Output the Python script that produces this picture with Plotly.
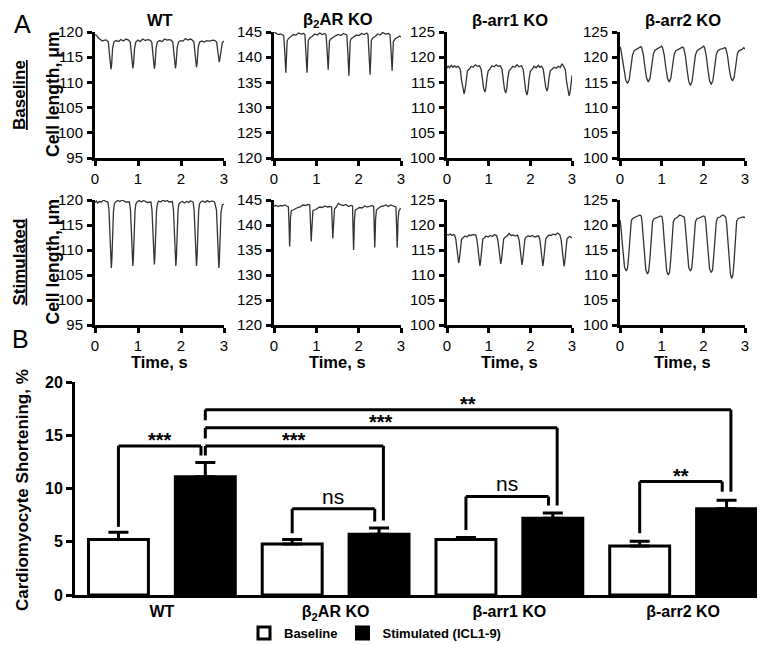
import plotly.graph_objects as go

# ---------------- Panel A data (cell length traces) ----------------
t_wt_base = [0, 0.04, 0.08, 0.12, 0.17, 0.22, 0.27, 0.31, 0.335, 0.36, 0.37, 0.385, 0.41, 0.44, 0.49,
             0.55, 0.6, 0.66, 0.72, 0.78, 0.82, 0.845, 0.87, 0.88, 0.895, 0.92, 0.95, 1.0, 1.05, 1.11, 1.17, 1.22,
             1.28, 1.32, 1.345, 1.37, 1.38, 1.395, 1.42, 1.45, 1.5, 1.56, 1.62, 1.68, 1.72,
             1.77, 1.81, 1.835, 1.86, 1.87, 1.885, 1.91, 1.94, 1.99, 2.05, 2.1, 2.16, 2.22,
             2.26, 2.30, 2.325, 2.35, 2.36, 2.375, 2.40, 2.43, 2.48, 2.54, 2.6, 2.66, 2.74,
             2.79, 2.83, 2.855, 2.88, 2.89, 2.905, 2.93, 2.96, 3.0]
l_wt_base = [119.5, 119.3, 118.8, 118.5, 118.2, 118.4, 118.4, 118.0, 115.8, 113.2, 112.6, 113.4, 116.8, 118.0, 118.3,
             118.1, 118.5, 118.2, 118.6, 118.4, 118.0, 115.8, 113.4, 112.8, 113.6, 116.8, 118.0, 118.4, 118.1, 118.6, 118.3, 118.5,
             118.4, 118.0, 115.8, 113.3, 112.7, 113.5, 116.8, 118.0, 118.3, 118.1, 118.6, 118.4, 118.5,
             118.4, 118.0, 115.8, 113.4, 112.8, 113.6, 116.8, 118.0, 118.3, 118.2, 118.7, 118.4, 118.6,
             118.4, 118.0, 115.9, 113.6, 113.0, 113.8, 116.9, 118.0, 118.2, 118.0, 118.3, 118.2, 118.4,
             118.3, 118.0, 116.2, 114.5, 114.0, 114.7, 116.8, 117.9, 118.2]

t_b2_base = [0, 0.05, 0.1, 0.15, 0.2,
             0.23, 0.255, 0.272, 0.28, 0.29, 0.31, 0.34, 0.4, 0.46, 0.52, 0.58, 0.64, 0.7,
             0.73, 0.755, 0.772, 0.78, 0.79, 0.81, 0.84, 0.9, 0.96, 1.02, 1.08, 1.14, 1.2,
             1.23, 1.255, 1.272, 1.28, 1.29, 1.31, 1.34, 1.4, 1.46, 1.52, 1.58, 1.64, 1.7,
             1.72, 1.745, 1.762, 1.77, 1.78, 1.80, 1.83, 1.89, 1.95, 2.01, 2.07, 2.13, 2.19,
             2.22, 2.245, 2.262, 2.27, 2.28, 2.30, 2.33, 2.39, 2.45, 2.51, 2.57, 2.63, 2.7,
             2.74, 2.765, 2.782, 2.79, 2.80, 2.82, 2.86, 2.92, 2.97, 3.0]
l_b2_base = [145.0, 144.8, 144.5, 144.6, 144.4,
             144.3, 141.0, 137.9, 136.9, 138.9, 143.2, 143.7, 144.2, 144.5, 144.4, 144.8, 144.6, 144.7,
             144.5, 141.0, 137.9, 136.9, 138.9, 143.3, 143.8, 144.1, 144.6, 144.4, 144.8, 144.5, 144.7,
             144.4, 141.3, 138.5, 137.5, 139.4, 143.2, 143.6, 144.0, 144.3, 144.5, 144.3, 144.7, 144.5,
             144.4, 140.8, 137.3, 136.3, 138.5, 143.2, 143.7, 144.0, 144.4, 144.3, 144.7, 144.5, 144.8,
             144.5, 140.9, 137.5, 136.5, 138.7, 143.3, 143.8, 144.1, 144.6, 144.4, 144.9, 144.6, 144.7,
             144.5, 141.2, 138.3, 137.3, 139.2, 143.1, 143.6, 143.9, 144.2, 144.0]

t_a1_base = [0, 0.03, 0.06, 0.1, 0.14, 0.18, 0.22, 0.25,
             0.28, 0.32, 0.35, 0.38, 0.41, 0.435, 0.46, 0.49, 0.53, 0.58, 0.63, 0.68, 0.73, 0.78,
             0.82, 0.85, 0.88, 0.91, 0.935, 0.96, 0.99, 1.03, 1.08, 1.13, 1.18, 1.23, 1.28,
             1.32, 1.35, 1.38, 1.41, 1.435, 1.46, 1.49, 1.53, 1.58, 1.63, 1.68, 1.73, 1.79,
             1.83, 1.86, 1.89, 1.92, 1.945, 1.97, 2.0, 2.04, 2.09, 2.14, 2.19, 2.23, 2.27,
             2.31, 2.34, 2.37, 2.40, 2.425, 2.45, 2.48, 2.52, 2.57, 2.62, 2.67, 2.72, 2.76, 2.8,
             2.84, 2.87, 2.90, 2.93, 2.955, 2.98, 3.0]
l_a1_base = [117.8, 118.3, 117.9, 118.4, 118.0, 118.3, 118.0, 118.2,
             118.1, 117.5, 115.4, 113.5, 112.7, 113.6, 115.8, 117.3, 117.6, 118.2, 118.0, 118.5, 118.2, 118.3,
             117.6, 115.6, 113.8, 113.1, 114.0, 116.0, 117.3, 117.7, 118.3, 118.1, 118.5, 118.2, 118.3,
             117.6, 115.5, 113.6, 112.9, 113.8, 115.9, 117.3, 117.7, 118.2, 118.0, 118.5, 118.1, 118.3,
             117.5, 115.3, 113.3, 112.5, 113.5, 115.7, 117.2, 117.6, 118.2, 117.9, 118.4, 118.0, 118.2,
             117.6, 115.7, 114.0, 113.3, 114.1, 116.0, 117.3, 117.6, 118.0, 117.8, 118.2, 118.0, 118.7, 118.2,
             117.5, 115.2, 113.2, 112.3, 113.1, 115.0, 116.4]

t_a2_base = [0, 0.02, 0.06, 0.1, 0.14, 0.18, 0.22, 0.26, 0.30, 0.34, 0.40, 0.46, 0.50,
             0.52, 0.56, 0.60, 0.64, 0.68, 0.72, 0.76, 0.80, 0.84, 0.90, 0.96, 1.0,
             1.02, 1.06, 1.10, 1.14, 1.18, 1.22, 1.26, 1.30, 1.34, 1.40, 1.46, 1.50,
             1.53, 1.57, 1.61, 1.65, 1.69, 1.73, 1.77, 1.81, 1.85, 1.91, 1.97, 2.01,
             2.03, 2.07, 2.11, 2.15, 2.19, 2.23, 2.27, 2.31, 2.35, 2.41, 2.47, 2.52,
             2.54, 2.58, 2.62, 2.66, 2.70, 2.74, 2.78, 2.82, 2.86, 2.92, 2.97, 3.0]
l_a2_base = [122.1, 121.6, 119.5, 117.2, 115.4, 114.8, 115.5, 117.9, 120.4, 121.3, 121.6, 122.0, 122.1,
             121.9, 120.5, 117.9, 115.8, 115.1, 115.8, 118.2, 120.6, 121.4, 121.7, 122.0, 122.2,
             121.9, 120.5, 117.9, 115.8, 115.1, 115.8, 118.2, 120.6, 121.3, 121.6, 121.8, 122.0,
             121.8, 120.2, 117.5, 115.2, 114.4, 115.2, 117.8, 120.4, 121.3, 121.7, 122.0, 122.2,
             121.9, 120.3, 117.6, 115.3, 114.6, 115.4, 117.9, 120.5, 121.3, 121.6, 121.7, 121.9,
             121.7, 120.3, 117.8, 115.9, 115.3, 116.0, 118.4, 120.8, 121.3, 121.5, 121.9, 121.6]

t_wt_stim = [0, 0.03, 0.06, 0.1, 0.15, 0.2, 0.25, 0.3,
             0.325, 0.35, 0.37, 0.38, 0.392, 0.41, 0.43, 0.45, 0.48, 0.53, 0.58, 0.63, 0.68, 0.72, 0.8,
             0.825, 0.85, 0.87, 0.88, 0.892, 0.91, 0.93, 0.95, 0.98, 1.03, 1.08, 1.13, 1.18, 1.22, 1.3,
             1.325, 1.35, 1.37, 1.38, 1.392, 1.41, 1.43, 1.45, 1.48, 1.53, 1.58, 1.63, 1.68, 1.72, 1.8,
             1.825, 1.85, 1.87, 1.88, 1.892, 1.91, 1.93, 1.95, 1.98, 2.03, 2.08, 2.13, 2.18, 2.22, 2.28,
             2.305, 2.33, 2.35, 2.36, 2.372, 2.39, 2.41, 2.43, 2.46, 2.51, 2.56, 2.61, 2.66, 2.72, 2.78,
             2.825, 2.85, 2.87, 2.88, 2.892, 2.91, 2.93, 2.96, 3.0]
l_wt_stim = [119.5, 119.8, 119.4, 119.7, 119.6, 120.0, 119.7, 119.6,
             118.0, 113.0, 108.0, 106.4, 108.0, 113.5, 117.8, 119.2, 119.6, 119.9, 119.7, 120.0, 119.8, 119.6, 119.6,
             118.0, 113.0, 108.3, 106.8, 108.3, 113.5, 117.8, 119.2, 119.6, 119.9, 119.6, 119.9, 119.7, 119.5, 119.6,
             118.0, 113.1, 108.6, 107.1, 108.6, 113.6, 117.8, 119.2, 119.8, 119.6, 120.0, 119.7, 119.9, 119.6, 119.7,
             118.0, 113.0, 108.3, 106.8, 108.3, 113.5, 117.8, 119.2, 119.5, 119.7, 119.4, 119.7, 119.5, 119.8, 119.6,
             118.0, 113.0, 108.3, 106.8, 108.3, 113.5, 117.8, 119.2, 119.6, 119.8, 119.5, 119.9, 119.6, 119.8, 119.6,
             118.0, 113.0, 108.0, 106.4, 108.0, 113.5, 117.5, 119.0, 119.2]

t_b2_stim = [0, 0.05, 0.1, 0.15, 0.2, 0.25, 0.3,
             0.34, 0.355, 0.365, 0.37, 0.378, 0.39, 0.41, 0.45, 0.5, 0.56, 0.62, 0.68, 0.74, 0.8, 0.845,
             0.855, 0.872, 0.88, 0.888, 0.9, 0.92, 0.96, 1.02, 1.08, 1.14, 1.2, 1.26, 1.32, 1.36,
             1.368, 1.382, 1.39, 1.398, 1.41, 1.43, 1.47, 1.52, 1.58, 1.64, 1.7, 1.76, 1.82, 1.855,
             1.865, 1.875, 1.88, 1.888, 1.9, 1.92, 1.96, 2.02, 2.08, 2.14, 2.2, 2.26, 2.32, 2.355,
             2.365, 2.375, 2.38, 2.388, 2.4, 2.42, 2.46, 2.52, 2.58, 2.64, 2.7, 2.76, 2.82, 2.88,
             2.895, 2.905, 2.91, 2.918, 2.93, 2.95, 2.98, 3.0]
l_b2_stim = [143.8, 143.9, 143.7, 143.9, 143.8, 144.0, 143.8,
             143.6, 140.0, 137.0, 135.7, 137.5, 141.5, 142.9, 143.0, 143.3, 143.5, 143.6, 144.0, 143.9, 144.1, 144.0,
             141.0, 138.0, 136.7, 138.3, 141.6, 142.9, 143.0, 143.3, 143.6, 143.5, 143.8, 143.6, 143.7, 143.6,
             141.0, 138.5, 137.3, 138.8, 142.0, 143.2, 143.6, 144.3, 144.0, 143.9, 144.1, 143.7, 143.9, 143.8,
             140.0, 136.8, 135.0, 137.0, 141.0, 143.0, 143.2, 143.5, 143.4, 143.8, 143.6, 143.8, 143.9, 143.7,
             140.0, 137.2, 135.5, 137.4, 141.2, 143.0, 143.3, 143.7, 143.8, 144.0, 143.7, 144.0, 143.8, 143.6,
             140.0, 137.2, 135.5, 137.4, 141.0, 142.8, 143.2, 143.3]

t_a1_stim = [0, 0.04, 0.08, 0.12, 0.16,
             0.18, 0.21, 0.24, 0.265, 0.28, 0.295, 0.32, 0.35, 0.38, 0.43, 0.48, 0.53, 0.58, 0.63, 0.67,
             0.69, 0.72, 0.75, 0.775, 0.79, 0.805, 0.83, 0.86, 0.89, 0.94, 0.99, 1.04, 1.09, 1.14, 1.18,
             1.19, 1.22, 1.25, 1.275, 1.29, 1.305, 1.33, 1.36, 1.39, 1.44, 1.49, 1.54, 1.59, 1.64, 1.69,
             1.70, 1.73, 1.76, 1.785, 1.80, 1.815, 1.84, 1.87, 1.9, 1.95, 2.0, 2.05, 2.1, 2.15, 2.19,
             2.2, 2.23, 2.26, 2.285, 2.30, 2.315, 2.34, 2.37, 2.40, 2.45, 2.5, 2.55, 2.6, 2.65, 2.7,
             2.71, 2.74, 2.77, 2.795, 2.81, 2.825, 2.85, 2.88, 2.92, 2.96, 3.0]
l_a1_stim = [118.1, 118.0, 118.2, 117.9, 118.1,
             118.0, 117.2, 115.0, 113.0, 112.4, 113.0, 115.5, 117.2, 117.4, 117.8, 117.6, 118.0, 117.9, 118.1, 118.0,
             118.0, 117.0, 114.8, 112.6, 111.8, 112.6, 115.3, 117.2, 117.4, 117.8, 117.6, 117.9, 117.7, 118.1, 117.9,
             117.9, 117.0, 114.9, 112.9, 112.2, 112.9, 115.4, 117.2, 117.5, 117.8, 118.3, 117.9, 118.0, 117.8, 118.0,
             117.9, 117.0, 114.8, 112.8, 112.0, 112.8, 115.3, 117.2, 117.6, 117.8, 117.7, 117.9, 117.6, 117.8, 117.8,
             117.8, 117.0, 114.8, 112.6, 111.8, 112.6, 115.2, 117.2, 117.6, 118.0, 117.9, 118.2, 118.0, 118.4, 118.1,
             118.0, 117.0, 114.7, 112.5, 111.7, 112.5, 115.2, 117.2, 117.6, 117.7, 117.4]

t_a2_stim = [0, 0.02, 0.05, 0.08, 0.11, 0.15, 0.18, 0.21, 0.24, 0.27, 0.30, 0.36, 0.42, 0.48, 0.51,
             0.53, 0.56, 0.59, 0.62, 0.66, 0.69, 0.72, 0.75, 0.78, 0.81, 0.87, 0.93, 0.98, 1.01,
             1.03, 1.06, 1.09, 1.12, 1.16, 1.19, 1.22, 1.25, 1.28, 1.31, 1.37, 1.43, 1.5, 1.54,
             1.56, 1.59, 1.62, 1.65, 1.69, 1.72, 1.75, 1.78, 1.81, 1.84, 1.9, 1.96, 2.01, 2.04,
             2.06, 2.09, 2.12, 2.15, 2.19, 2.22, 2.25, 2.28, 2.31, 2.34, 2.4, 2.46, 2.51, 2.54,
             2.56, 2.59, 2.62, 2.65, 2.68, 2.71, 2.74, 2.77, 2.80, 2.84, 2.9, 2.95, 3.0]
l_a2_stim = [121.0, 119.8, 116.8, 113.5, 111.5, 110.8, 111.3, 114.0, 117.8, 120.8, 121.3, 121.5, 121.8, 122.0, 121.8,
             120.5, 117.2, 113.8, 111.0, 110.2, 110.8, 113.5, 117.5, 120.6, 121.2, 121.4, 121.6, 121.8, 121.6,
             120.4, 117.0, 113.5, 110.8, 110.0, 110.6, 113.3, 117.3, 120.6, 121.2, 121.5, 122.0, 121.8, 121.6,
             120.5, 117.3, 114.0, 111.5, 110.8, 111.3, 114.0, 117.8, 120.6, 121.2, 121.4, 121.7, 121.8, 121.6,
             120.4, 117.2, 113.8, 111.2, 110.5, 111.0, 113.8, 117.6, 120.6, 121.4, 121.6, 122.0, 121.8, 121.5,
             120.2, 116.8, 113.0, 110.2, 109.3, 110.0, 113.0, 117.2, 120.8, 121.3, 121.4, 121.6, 121.5]

panel_titles = ["WT", "β<sub>2</sub>AR KO", "β-arr1 KO", "β-arr2 KO"]
panel_yranges = [[95, 120], [120, 145], [100, 125], [100, 125]]
row_labels = ["Baseline", "Stimulated"]

# ---------------- Panel B data ----------------
groups = ["WT", "β<sub>2</sub>AR KO", "β-arr1 KO", "β-arr2 KO"]
baseline_mean = [5.2, 4.8, 5.2, 4.6]
baseline_sem = [0.7, 0.4, 0.2, 0.45]
stim_mean = [11.1, 5.7, 7.2, 8.1]
stim_sem = [1.35, 0.6, 0.5, 0.8]

# significance comparisons: (group_a, series_a, group_b, series_b, label)
sig_pairs = [(0, "base", 0, "stim", "***"),
             (0, "stim", 1, "stim", "***"),
             (0, "stim", 2, "stim", "***"),
             (0, "stim", 3, "stim", "**"),
             (1, "base", 1, "stim", "ns"),
             (2, "base", 2, "stim", "ns"),
             (3, "base", 3, "stim", "**")]
sig_level = [14.0, 14.0, 15.7, 17.4, 8.1, 9.25, 10.65]
sig_left_end = [6.4, 13.1, 14.7, 16.4, 5.8, 6.1, 5.8]
sig_right_end = [13.1, 7.0, 8.4, 9.7, 6.9, 8.4, 9.7]

# ---------------- Figure ----------------
W, H = 765, 645
FONT = "Liberation Sans, Arial, sans-serif"
fig = go.Figure()

traces = [[(t_wt_base, l_wt_base), (t_b2_base, l_b2_base), (t_a1_base, l_a1_base), (t_a2_base, l_a2_base)],
          [(t_wt_stim, l_wt_stim), (t_b2_stim, l_b2_stim), (t_a1_stim, l_a1_stim), (t_a2_stim, l_a2_stim)]]

col_px = [(87, 216), (266, 393), (439, 564), (612, 737)]
row_px = [(24, 150), (192, 317)]

def xd(a, b):
    return [a / W, b / W]

def yd(top, bottom):
    return [1 - bottom / H, 1 - top / H]

layout_axes = {}
annotations = []
for r in range(2):
    for c in range(4):
        k = r * 4 + c + 1
        tx, ly = traces[r][c]
        fig.add_trace(go.Scatter(x=tx, y=ly, mode="lines", line=dict(color="#333333", width=1.3),
                                 xaxis=f"x{k}", yaxis=f"y{k}", showlegend=False, hoverinfo="skip"))
        common = dict(showline=True, linecolor="black", linewidth=3, ticks="outside",
                      ticklen=5, tickwidth=3, tickcolor="black", showgrid=False, automargin=False,
                      zeroline=False, tickfont=dict(family=FONT, size=15, color="black"))
        layout_axes[f"xaxis{k}"] = dict(domain=xd(*col_px[c]), anchor=f"y{k}", range=[0, 3], dtick=1, **common)
        layout_axes[f"yaxis{k}"] = dict(domain=yd(*row_px[r]), anchor=f"x{k}", range=panel_yranges[c],
                                        dtick=5, ticklabelstandoff=1, **common)

# bars
fig.add_trace(go.Bar(x=groups, y=baseline_mean, name="Baseline", xaxis="x9", yaxis="y9",
                     marker=dict(color="white", line=dict(color="black", width=3)),
                     error_y=dict(type="data", array=baseline_sem, arrayminus=[0] * 4, symmetric=False,
                                  color="black", thickness=3, width=10)))
fig.add_trace(go.Bar(x=groups, y=stim_mean, name="Stimulated (ICL1-9)", xaxis="x9", yaxis="y9",
                     marker=dict(color="black", line=dict(color="black", width=3)),
                     error_y=dict(type="data", array=stim_sem, arrayminus=[0] * 4, symmetric=False,
                                  color="black", thickness=3, width=10)))

layout_axes["xaxis9"] = dict(domain=xd(67, 762), anchor="y9", showline=True, linecolor="black", linewidth=3,
                             ticks="", showgrid=False, zeroline=False, automargin=False,
                             tickfont=dict(family=FONT, size=16, color="black", weight="bold"))
layout_axes["yaxis9"] = dict(domain=yd(374, 587), anchor="x9", range=[0, 20], dtick=5, showline=True,
                             linecolor="black", linewidth=3, ticks="outside", ticklen=6, tickwidth=3,
                             tickcolor="black", showgrid=False, zeroline=False, automargin=False,
                             tickfont=dict(family=FONT, size=16, color="black", weight="bold"))

# significance brackets
shapes = []
def pos(g, s):
    return g - 0.25 if s == "base" else g + 0.25

for i, (ga, sa, gb, sb, lab) in enumerate(sig_pairs):
    xa = pos(ga, sa)
    xb = pos(gb, sb)
    within = (ga == gb)
    if within:
        xb -= 0.025
    else:
        xb += 0.025
    lvl = sig_level[i]
    line = dict(color="black", width=3)
    shapes.append(dict(type="line", xref="x9", yref="y9", x0=xa, x1=xa, y0=sig_left_end[i], y1=lvl, line=line))
    shapes.append(dict(type="line", xref="x9", yref="y9", x0=xa, x1=xb, y0=lvl, y1=lvl, line=line))
    shapes.append(dict(type="line", xref="x9", yref="y9", x0=xb, x1=xb, y0=lvl, y1=sig_right_end[i], line=line))
    if lab == "ns":
        f = dict(family=FONT, size=21, color="black")
        ysh = -1
    else:
        f = dict(family=FONT, size=20, color="black", weight="bold")
        ysh = -7
    annotations.append(dict(x=(xa + xb) / 2, y=lvl, xref="x9", yref="y9", text=lab, showarrow=False,
                            yanchor="bottom", yshift=ysh, font=f))

# text annotations (titles)
def pa(x, y, text, size=15, bold=True, angle=0):
    annotations.append(dict(x=x / W, y=1 - y / H, xref="paper", yref="paper", text=text, showarrow=False,
                            xanchor="center", yanchor="middle", textangle=angle,
                            font=dict(family=FONT, size=size, color="black", weight="bold" if bold else "normal")))

for c in range(4):
    cx = (col_px[c][0] + col_px[c][1]) / 2
    pa(cx, 12, panel_titles[c], 16.5)
    pa(cx, 354, "Time, s", 16.5)
for r in range(2):
    cy = (row_px[r][0] + row_px[r][1]) / 2
    pa(45, cy, "Cell length, μm", 17.5, angle=-90)
    pa(11, cy, f"<u>{row_labels[r]}</u>", 17, angle=-90)
pa(14, 16, "A", 25, bold=False)
pa(12, 331, "B", 25, bold=False)
pa(14, 482, "Cardiomyocyte Shortening, %", 17, angle=-90)

fig.update_layout(
    width=W, height=H, margin=dict(l=0, r=0, t=0, b=0, autoexpand=False),
    paper_bgcolor="white", plot_bgcolor="white",
    font=dict(family=FONT, color="black"),
    barmode="group", bargap=0.0, bargroupgap=0.31,
    showlegend=True,
    legend=dict(orientation="h", x=(383 - 16) / W, xanchor="center", y=1 - 625 / H, yanchor="middle",
                font=dict(family=FONT, size=13, color="black", weight="bold"), itemwidth=30,
                bgcolor="rgba(0,0,0,0)"),
    shapes=shapes, annotations=annotations,
    **layout_axes,
)

fig.write_html("out.html")
